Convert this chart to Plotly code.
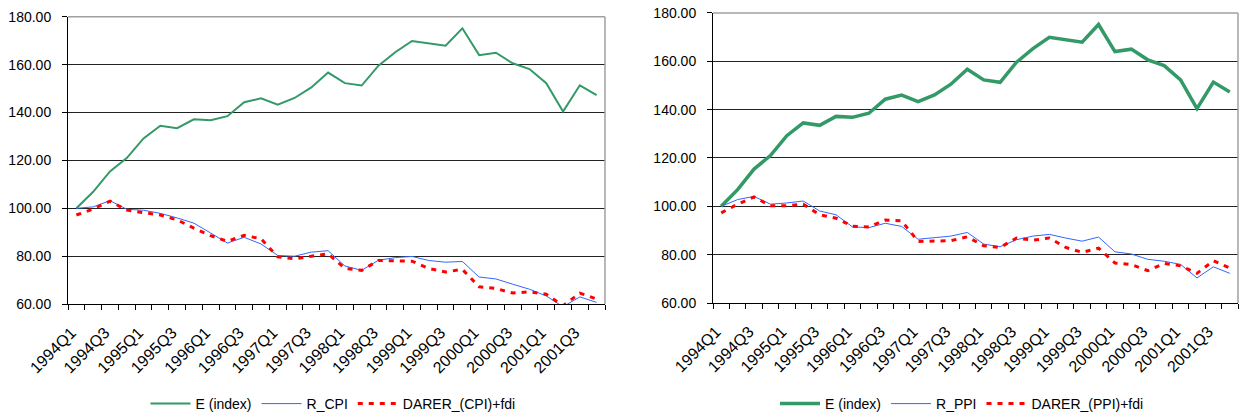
"""Exchange rate index vs. real rates — two Excel-style line panels (CPI / PPI)."""

import plotly.graph_objects as go

# quarters, 1994Q1 .. 2001Q4
QUARTERS = [
    "1994Q1", "1994Q2", "1994Q3", "1994Q4", "1995Q1", "1995Q2", "1995Q3", "1995Q4",
    "1996Q1", "1996Q2", "1996Q3", "1996Q4", "1997Q1", "1997Q2", "1997Q3", "1997Q4",
    "1998Q1", "1998Q2", "1998Q3", "1998Q4", "1999Q1", "1999Q2", "1999Q3", "1999Q4",
    "2000Q1", "2000Q2", "2000Q3", "2000Q4", "2001Q1", "2001Q2", "2001Q3", "2001Q4",
]
TICK_LABELS = QUARTERS[::2]

E_INDEX = [
    100.0, 106.9, 115.4, 121.0, 129.2, 134.5, 133.5, 137.2,
    136.8, 138.5, 144.3, 146.0, 143.3, 146.1, 150.5, 156.7,
    152.3, 151.3, 159.6, 165.2, 169.9, 168.8, 167.9, 175.2,
    164.0, 165.0, 160.6, 158.2, 152.3, 140.4, 151.4, 147.3,
]

R_CPI = [
    100.0, 100.6, 103.2, 99.6, 99.2, 97.9, 96.0, 93.8,
    89.7, 85.5, 87.9, 85.1, 80.3, 80.0, 81.7, 82.3,
    75.9, 74.1, 78.3, 79.4, 79.9, 78.2, 77.5, 77.8,
    71.3, 70.5, 68.3, 66.2, 63.4, 58.9, 63.0, 60.7,
]
DARER_CPI = [
    97.2, 99.7, 103.0, 99.3, 98.2, 97.2, 95.2, 91.7,
    88.6, 86.2, 88.7, 87.3, 79.7, 78.9, 80.0, 81.0,
    74.9, 74.1, 78.2, 78.2, 77.9, 74.9, 73.4, 74.5,
    67.2, 66.5, 64.6, 65.1, 64.1, 59.3, 64.6, 62.1,
]

R_PPI = [
    100.0, 102.8, 104.1, 100.9, 101.4, 102.2, 98.1, 96.5,
    91.5, 91.2, 93.0, 91.7, 86.4, 86.9, 87.7, 89.2,
    84.4, 83.3, 86.2, 87.7, 88.4, 86.9, 85.6, 87.3,
    81.2, 80.3, 78.1, 77.3, 76.0, 70.4, 75.0, 72.3,
]
DARER_PPI = [
    97.3, 100.9, 103.9, 100.2, 100.3, 100.9, 96.5, 95.1,
    91.8, 91.5, 94.3, 94.0, 85.5, 85.5, 85.8, 87.4,
    83.7, 83.0, 86.9, 86.0, 86.9, 83.0, 81.0, 82.7,
    76.6, 75.9, 73.4, 76.4, 75.4, 72.3, 77.5, 74.5,
]

GREEN = "#339966"
BLUE = "#3366FF"
RED = "#FF0000"
FONT = "Liberation Sans, Arial, sans-serif"

W, H = 1240, 420


def fx(px):
    return px / W


def fy(py):
    return 1 - py / H


x_idx = list(range(len(QUARTERS)))

fig = go.Figure()

panels = [
    # (xaxis, yaxis, legend, real series, darer series, names, E width)
    ("x", "y", "legend", R_CPI, DARER_CPI, ("R_CPI", "DARER_(CPI)+fdi"), 2),
    ("x2", "y2", "legend2", R_PPI, DARER_PPI, ("R_PPI", "DARER_(PPI)+fdi"), 3.5),
]

for xa, ya, leg, real, darer, names, e_width in panels:
    fig.add_trace(go.Scatter(
        x=x_idx, y=E_INDEX, mode="lines", name="E (index)",
        line=dict(color=GREEN, width=e_width),
        xaxis=xa, yaxis=ya, legend=leg,
        customdata=QUARTERS, hovertemplate="%{customdata}: %{y:.2f}<extra></extra>",
    ))
    fig.add_trace(go.Scatter(
        x=x_idx, y=real, mode="lines", name=names[0],
        line=dict(color=BLUE, width=1),
        xaxis=xa, yaxis=ya, legend=leg,
        customdata=QUARTERS, hovertemplate="%{customdata}: %{y:.2f}<extra></extra>",
    ))
    fig.add_trace(go.Scatter(
        x=x_idx, y=darer, mode="lines", name=names[1],
        line=dict(color=RED, width=3, dash="5px,6px"),
        xaxis=xa, yaxis=ya, legend=leg,
        customdata=QUARTERS, hovertemplate="%{customdata}: %{y:.2f}<extra></extra>",
    ))

x_common = dict(
    range=[-0.5, len(QUARTERS) - 0.5],
    tickmode="array",
    tickvals=x_idx[::2],
    ticktext=TICK_LABELS,
    tickangle=-45,
    ticks="",
    ticklabelstandoff=12,
    ticklabelshift=-5,
    showgrid=False,
    zeroline=False,
    showline=True,
    linecolor="black",
    linewidth=1,
    minor=dict(ticks="outside", tick0=0.5, dtick=1, ticklen=5,
               tickcolor="black", tickwidth=1, showgrid=False),
    tickfont=dict(family=FONT, size=16, color="black"),
    automargin=False,
    fixedrange=True,
)
y_common = dict(
    range=[60, 180],
    tick0=60,
    dtick=20,
    tickformat=".2f",
    ticks="outside",
    ticklen=5,
    tickcolor="black",
    ticklabelstandoff=8,
    ticklabeloverflow="allow",
    showgrid=True,
    gridcolor="#222222",
    gridwidth=1,
    zeroline=False,
    showline=True,
    linecolor="black",
    linewidth=1,
    tickfont=dict(family=FONT, size=14, color="black"),
    automargin=False,
    fixedrange=True,
)

legend_common = dict(
    orientation="h",
    xanchor="center",
    yanchor="middle",
    y=fy(408),
    font=dict(family=FONT, size=14, color="black"),
    bgcolor="rgba(0,0,0,0)",
    itemwidth=40,
    tracegroupgap=0,
)

fig.update_layout(
    template="none",
    width=W,
    height=H,
    margin=dict(l=0, r=0, t=0, b=0),
    paper_bgcolor="white",
    plot_bgcolor="white",
    xaxis=dict(x_common, domain=[fx(68), fx(605)], anchor="y"),
    yaxis=dict(y_common, domain=[fy(307), fy(17)], anchor="x"),
    xaxis2=dict(x_common, domain=[fx(713), fx(1238)], anchor="y2"),
    yaxis2=dict(y_common, domain=[fy(306), fy(13)], anchor="x2"),
    legend=dict(legend_common, x=fx(333)),
    legend2=dict(legend_common, x=fx(962)),
    hovermode="closest",
)

# grey top / right border of each plot area, like the Excel chart frame
for xr, yr in (("x domain", "y domain"), ("x2 domain", "y2 domain")):
    fig.add_shape(type="line", xref=xr, yref=yr, x0=0, x1=1, y0=1, y1=1,
                  line=dict(color="#A0A0A0", width=1.5), layer="above")
    fig.add_shape(type="line", xref=xr, yref=yr, x0=1, x1=1, y0=0, y1=1,
                  line=dict(color="#A0A0A0", width=1.5), layer="above")

# drop the page's default body margin so the figure fills the window exactly
fig.write_html(
    "out.html",
    config={"displayModeBar": False},
    post_script="document.body.style.margin = '0';",
)
